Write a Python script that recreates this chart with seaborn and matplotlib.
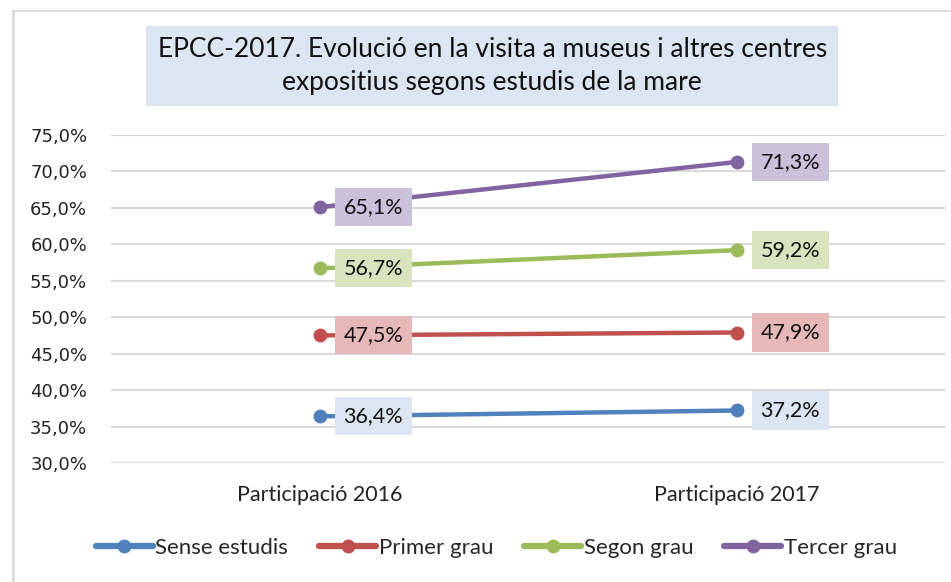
import numpy as np
import pandas as pd
import matplotlib
matplotlib.use('Agg')
import matplotlib.pyplot as plt
import seaborn as sns
from matplotlib.lines import Line2D

# Chart data
categories = ['Participació 2016', 'Participació 2017']
series = ['Sense estudis', 'Primer grau', 'Segon grau', 'Tercer grau']
sense_estudis = [36.4, 37.2]
primer_grau = [47.5, 47.9]
segon_grau = [56.7, 59.2]
tercer_grau = [65.1, 71.3]
y_ticks = [30, 35, 40, 45, 50, 55, 60, 65, 70, 75]

line_colors = ['#4F81BD', '#C0504D', '#9BBB59', '#8064A2']
box_colors = ['#DCE6F2', '#E6B9B8', '#D7E4BD', '#CCC1DA']

# Long-form table for seaborn
values = [sense_estudis, primer_grau, segon_grau, tercer_grau]
rows = []
for name, vals in zip(series, values):
    for cat, v in zip(categories, vals):
        rows.append({'categoria': cat, 'serie': name, 'valor': v})
df = pd.DataFrame(rows)

sns.set_style('white')
plt.rcParams['font.family'] = ['Lato', 'DejaVu Sans']

fig = plt.figure(figsize=(9.51, 5.82), dpi=100)
ax = fig.add_axes([0.1172, 0.2045, 0.877, 0.5636])

sns.lineplot(data=df, x='categoria', y='valor', hue='serie', hue_order=series,
             palette=line_colors, marker='o', markersize=10, markeredgewidth=0,
             linewidth=3.2, ax=ax, sort=False)

# data labels in coloured boxes
for name, vals, bc in zip(series, values, box_colors):
    for i, v in enumerate(vals):
        ax.annotate(f'{v:.1f}%'.replace('.', ','), xy=(i, v), xytext=(17, 0),
                    textcoords='offset points', ha='left', va='center',
                    fontsize=15.5, color='#111111',
                    bbox=dict(boxstyle='square,pad=0.42', fc=bc, ec='none'))

ax.set_xlim(-0.5, 1.5)
ax.set_ylim(30, 75)
ax.set_yticks(y_ticks)
ax.set_yticklabels([f'{t:.1f}%'.replace('.', ',') for t in y_ticks],
                   family='DejaVu Sans', fontsize=13, color='#222222')
ax.tick_params(axis='x', labelsize=15.5, colors='#222222', pad=12)
ax.tick_params(axis='y', pad=14)
ax.set_xlabel('')
ax.set_ylabel('')
ax.grid(axis='y', color='#D9D9D9', linewidth=1.5)
ax.set_axisbelow(True)
for s in ax.spines.values():
    s.set_visible(False)

# legend at the bottom
leg = ax.legend(loc='center', bbox_to_anchor=(0.4616, -0.26), ncol=4, frameon=False,
                fontsize=16, handlelength=2.55, handletextpad=0.12, columnspacing=1.4)
for h in leg.get_lines():
    h.set_linewidth(4.5)

# title box
fig.text(0.5175, 0.887, 'EPCC-2017. Evolució en la visita a museus i altres centres\nexpositius segons estudis de la mare',
         ha='center', va='center', fontsize=19, color='#111111', linespacing=1.4,
         bbox=dict(boxstyle='square,pad=0.42', fc='#DCE6F2', ec='none'))

# outer border (only top and left edges visible in the reference)
fig.add_artist(Line2D([12.5 / 951, 1.0], [1 - 10.5 / 582, 1 - 10.5 / 582],
                      transform=fig.transFigure, color='#D9D9D9', lw=1.2))
fig.add_artist(Line2D([12.5 / 951, 12.5 / 951], [0.0, 1 - 10.5 / 582],
                      transform=fig.transFigure, color='#D9D9D9', lw=2))

fig.savefig('out.png', dpi=100)
